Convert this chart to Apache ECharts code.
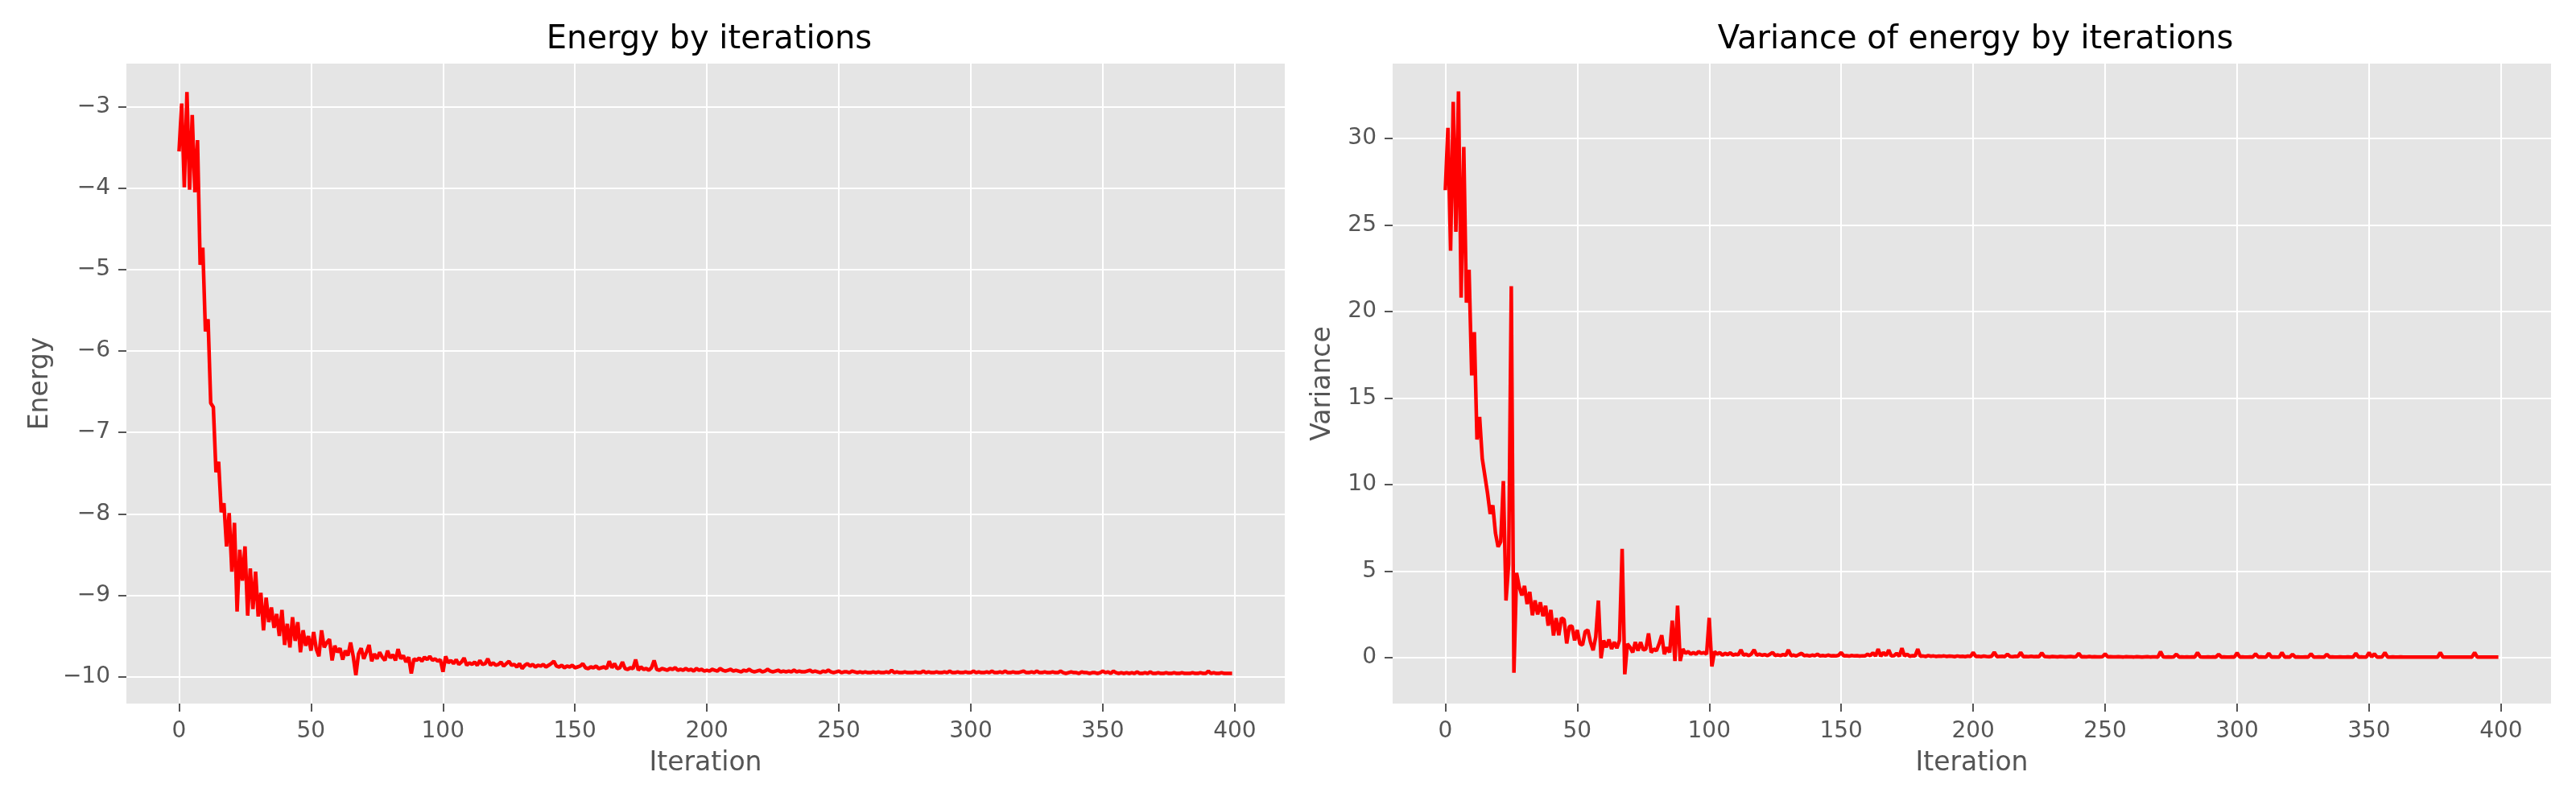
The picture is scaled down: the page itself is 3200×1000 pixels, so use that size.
<!DOCTYPE html>
<html>
<head>
<meta charset="utf-8">
<script src="https://cdn.jsdelivr.net/npm/echarts@6/dist/echarts.min.js"></script>
<style>
  html, body { margin: 0; padding: 0; background: #fff; }
  #chart { width: 3200px; height: 1000px; }
</style>
</head>
<body>
<div id="chart"></div>
<script>
// energy per iteration (0..399)
const energy = [
  -3.55,-2.96,-3.99,-2.82,-4.02,-3.10,-4.05,-3.41,-4.94,-4.73,
  -5.76,-5.61,-6.64,-6.69,-7.49,-7.36,-7.98,-7.87,-8.40,-7.99,
  -8.71,-8.11,-9.20,-8.44,-8.82,-8.40,-9.25,-8.67,-9.17,-8.71,
  -9.26,-8.97,-9.43,-9.03,-9.33,-9.15,-9.40,-9.23,-9.50,-9.18,
  -9.61,-9.35,-9.64,-9.27,-9.56,-9.33,-9.70,-9.43,-9.62,-9.50,
  -9.68,-9.45,-9.66,-9.75,-9.43,-9.64,-9.58,-9.54,-9.80,-9.62,
  -9.70,-9.65,-9.79,-9.68,-9.74,-9.58,-9.75,-9.98,-9.72,-9.65,
  -9.78,-9.70,-9.61,-9.81,-9.72,-9.78,-9.70,-9.76,-9.80,-9.68,
  -9.77,-9.73,-9.80,-9.66,-9.78,-9.74,-9.82,-9.76,-9.96,-9.78,
  -9.80,-9.77,-9.81,-9.76,-9.79,-9.75,-9.80,-9.78,-9.81,-9.79,
  -9.94,-9.75,-9.83,-9.80,-9.84,-9.79,-9.85,-9.82,-9.77,-9.86,
  -9.83,-9.85,-9.82,-9.86,-9.80,-9.85,-9.84,-9.78,-9.86,-9.83,
  -9.86,-9.85,-9.82,-9.87,-9.84,-9.81,-9.86,-9.85,-9.88,-9.84,
  -9.90,-9.86,-9.84,-9.87,-9.85,-9.88,-9.86,-9.87,-9.85,-9.88,
  -9.86,-9.84,-9.81,-9.87,-9.88,-9.86,-9.89,-9.87,-9.88,-9.86,
  -9.89,-9.88,-9.87,-9.84,-9.89,-9.90,-9.88,-9.89,-9.87,-9.90,
  -9.89,-9.88,-9.90,-9.81,-9.89,-9.84,-9.90,-9.89,-9.82,-9.90,
  -9.91,-9.89,-9.90,-9.79,-9.92,-9.88,-9.91,-9.90,-9.92,-9.89,
  -9.80,-9.91,-9.92,-9.90,-9.91,-9.92,-9.90,-9.91,-9.89,-9.92,
  -9.91,-9.92,-9.90,-9.92,-9.91,-9.93,-9.90,-9.92,-9.91,-9.93,
  -9.92,-9.93,-9.91,-9.92,-9.93,-9.90,-9.92,-9.93,-9.92,-9.91,
  -9.93,-9.92,-9.93,-9.94,-9.92,-9.93,-9.91,-9.93,-9.94,-9.93,
  -9.92,-9.94,-9.93,-9.91,-9.93,-9.94,-9.93,-9.92,-9.94,-9.93,
  -9.94,-9.93,-9.94,-9.92,-9.94,-9.93,-9.94,-9.94,-9.93,-9.92,
  -9.94,-9.93,-9.94,-9.95,-9.93,-9.94,-9.92,-9.94,-9.95,-9.94,
  -9.93,-9.95,-9.94,-9.94,-9.95,-9.93,-9.94,-9.95,-9.94,-9.95,
  -9.94,-9.95,-9.95,-9.94,-9.95,-9.94,-9.95,-9.95,-9.94,-9.95,
  -9.92,-9.95,-9.94,-9.95,-9.95,-9.94,-9.95,-9.95,-9.95,-9.94,
  -9.95,-9.95,-9.93,-9.95,-9.94,-9.95,-9.95,-9.94,-9.95,-9.95,
  -9.94,-9.95,-9.93,-9.95,-9.95,-9.94,-9.95,-9.95,-9.94,-9.95,
  -9.95,-9.93,-9.95,-9.94,-9.95,-9.95,-9.94,-9.95,-9.93,-9.95,
  -9.95,-9.94,-9.95,-9.93,-9.95,-9.95,-9.94,-9.95,-9.95,-9.94,
  -9.93,-9.95,-9.95,-9.94,-9.95,-9.93,-9.95,-9.95,-9.94,-9.95,
  -9.95,-9.94,-9.95,-9.95,-9.93,-9.95,-9.96,-9.95,-9.94,-9.95,
  -9.95,-9.96,-9.94,-9.95,-9.95,-9.96,-9.95,-9.95,-9.96,-9.95,
  -9.93,-9.95,-9.94,-9.96,-9.93,-9.95,-9.96,-9.95,-9.96,-9.95,
  -9.96,-9.95,-9.96,-9.94,-9.96,-9.96,-9.95,-9.96,-9.94,-9.96,
  -9.96,-9.95,-9.96,-9.96,-9.95,-9.96,-9.96,-9.95,-9.96,-9.96,
  -9.95,-9.96,-9.96,-9.96,-9.95,-9.96,-9.96,-9.95,-9.96,-9.96,
  -9.93,-9.96,-9.95,-9.96,-9.96,-9.95,-9.96,-9.96,-9.96,-9.96
];

// variance of energy per iteration (0..399)
const variance = [
  27.0,30.6,23.5,32.1,24.6,32.7,20.8,29.5,20.5,22.4,
  16.3,18.8,12.6,13.9,11.5,10.5,9.5,8.3,8.8,7.2,
  6.4,6.7,10.2,3.3,5.4,21.45,-0.87,4.9,4.1,3.6,
  4.15,3.1,3.8,2.45,3.3,2.5,3.2,2.4,3.0,1.85,
  2.76,1.28,2.29,1.3,2.3,2.2,0.82,1.8,1.83,1.0,
  1.6,0.8,0.74,1.5,1.6,0.9,0.43,1.2,3.3,-0.03,
  1.0,0.6,1.05,0.5,0.9,0.55,1.0,6.28,-0.96,0.8,
  0.6,0.3,0.9,0.4,0.9,0.45,0.5,1.4,0.3,0.5,
  0.4,0.8,1.3,0.2,0.6,0.3,2.14,-0.19,3.0,-0.19,
  0.5,0.25,0.35,0.2,0.3,0.2,0.35,0.25,0.3,0.2,
  2.3,-0.5,0.35,0.2,0.3,0.15,0.25,0.18,0.28,0.15,
  0.2,0.17,0.45,0.15,0.2,0.12,0.22,0.45,0.15,0.2,
  0.14,0.18,0.12,0.2,0.3,0.13,0.16,0.12,0.18,0.14,
  0.45,0.12,0.15,0.1,0.18,0.25,0.12,0.14,0.1,0.15,
  0.12,0.2,0.1,0.13,0.1,0.15,0.11,0.12,0.1,0.14,
  0.3,0.1,0.12,0.09,0.13,0.1,0.12,0.09,0.11,0.1,
  0.2,0.12,0.28,0.1,0.5,0.08,0.3,0.12,0.45,0.1,
  0.12,0.25,0.08,0.55,0.1,0.2,0.08,0.12,0.1,0.5,
  0.08,0.1,0.07,0.12,0.08,0.1,0.07,0.09,0.08,0.1,
  0.07,0.09,0.08,0.06,0.1,0.07,0.08,0.06,0.09,0.07,
  0.3,0.07,0.08,0.06,0.09,0.07,0.06,0.08,0.32,0.06,
  0.07,0.08,0.06,0.2,0.07,0.06,0.08,0.07,0.3,0.06,
  0.07,0.06,0.08,0.06,0.07,0.06,0.28,0.07,0.06,0.05,
  0.07,0.06,0.05,0.07,0.06,0.05,0.06,0.07,0.05,0.06,
  0.25,0.05,0.06,0.05,0.07,0.05,0.06,0.05,0.05,0.06,
  0.22,0.05,0.06,0.05,0.05,0.06,0.05,0.04,0.06,0.05,
  0.05,0.04,0.06,0.05,0.04,0.05,0.06,0.04,0.05,0.05,
  0.04,0.35,0.05,0.04,0.05,0.04,0.05,0.2,0.04,0.05,
  0.04,0.05,0.04,0.05,0.04,0.3,0.05,0.04,0.04,0.05,
  0.04,0.05,0.04,0.2,0.04,0.05,0.04,0.04,0.05,0.04,
  0.28,0.04,0.05,0.04,0.04,0.05,0.04,0.22,0.04,0.05,
  0.04,0.04,0.25,0.04,0.05,0.04,0.04,0.3,0.04,0.05,
  0.04,0.2,0.04,0.05,0.04,0.04,0.05,0.04,0.22,0.04,
  0.04,0.05,0.04,0.04,0.2,0.04,0.05,0.04,0.04,0.05,
  0.04,0.04,0.05,0.04,0.04,0.25,0.04,0.05,0.04,0.04,
  0.3,0.04,0.22,0.04,0.04,0.05,0.3,0.04,0.04,0.05,
  0.04,0.04,0.05,0.04,0.04,0.03,0.04,0.04,0.03,0.04,
  0.03,0.04,0.03,0.04,0.04,0.03,0.04,0.3,0.03,0.04,
  0.03,0.04,0.03,0.03,0.04,0.03,0.04,0.03,0.03,0.04,
  0.3,0.03,0.04,0.03,0.03,0.03,0.04,0.03,0.03,0.03
];

const iterTicks = [0, 50, 100, 150, 200, 250, 300, 350, 400];
const energyTicks = [-10, -9, -8, -7, -6, -5, -4, -3];
const varianceTicks = [0, 5, 10, 15, 20, 25, 30];

const FONT = "DejaVu Sans";
const GREY = "#555555";
const minus = v => String(v).replace("-", "\u2212");

const pairs = arr => arr.map((v, i) => [i, v]);

const xAxisFor = gi => ({
  type: "value",
  gridIndex: gi,
  min: -19.95,
  max: 418.95,
  name: "Iteration",
  nameLocation: "middle",
  nameGap: 58,
  nameTextStyle: { color: GREY, fontSize: 33, fontFamily: FONT },
  axisLine: { show: false, onZero: false },
  axisTick: { show: true, length: 10, customValues: iterTicks, lineStyle: { color: GREY, width: 2 } },
  axisLabel: { customValues: iterTicks, color: GREY, fontSize: 28, fontFamily: FONT, margin: 21 },
  splitLine: { show: true, lineStyle: { color: "#ffffff", width: 2 } }
});

const yAxisFor = (gi, name, min, max, ticks, gap) => ({
  type: "value",
  gridIndex: gi,
  min: min,
  max: max,
  name: name,
  nameLocation: "middle",
  nameGap: gap,
  nameTextStyle: { color: GREY, fontSize: 33, fontFamily: FONT },
  axisLine: { show: false, onZero: false },
  axisTick: { show: true, length: 10, customValues: ticks, lineStyle: { color: GREY, width: 2 } },
  axisLabel: { customValues: ticks, color: GREY, fontSize: 28, fontFamily: FONT, margin: 20, formatter: minus },
  splitLine: { show: true, lineStyle: { color: "#ffffff", width: 2 } }
});

const lineSeries = (gi, arr) => ({
  type: "line",
  xAxisIndex: gi,
  yAxisIndex: gi,
  data: pairs(arr),
  showSymbol: false,
  symbol: "none",
  sampling: null,
  lineStyle: { color: "#ff0000", width: 4.5 },
  itemStyle: { color: "#ff0000" },
  emphasis: { disabled: true }
});

let mychart = echarts.init(document.getElementById("chart"));

mychart.setOption({
  animation: false,
  backgroundColor: "#ffffff",
  title: [
    {
      text: "Energy by iterations",
      left: 876,
      top: 25,
      textAlign: "center",
      textStyle: { color: "#000", fontSize: 40, fontWeight: "normal", fontFamily: FONT }
    },
    {
      text: "Variance of energy by iterations",
      left: 2449,
      top: 25,
      textAlign: "center",
      textStyle: { color: "#000", fontSize: 40, fontWeight: "normal", fontFamily: FONT }
    }
  ],
  grid: [
    { left: 157, top: 79, width: 1439, height: 795, show: true, backgroundColor: "#e5e5e5", borderWidth: 0 },
    { left: 1730, top: 79, width: 1439, height: 795, show: true, backgroundColor: "#e5e5e5", borderWidth: 0 }
  ],
  xAxis: [xAxisFor(0), xAxisFor(1)],
  yAxis: [
    yAxisFor(0, "Energy", -10.33, -2.47, energyTicks, 90),
    yAxisFor(1, "Variance", -2.65, 34.31, varianceTicks, 70)
  ],
  series: [lineSeries(0, energy), lineSeries(1, variance)]
});
</script>
</body>
</html>
